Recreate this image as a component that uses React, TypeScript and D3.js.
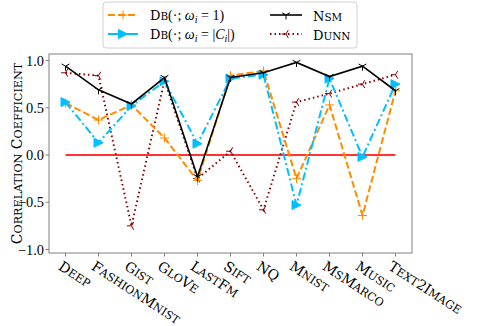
import React from "react";
import * as d3 from "d3";

// Values
const DATASETS = ["Deep", "FashionMnist", "Gist", "GloVe", "LastFm", "Sift", "NQ", "Mnist", "MsMarco", "Music", "Text2Image"];
const DB_ONE = [0.55, 0.37, 0.53, 0.18, -0.27, 0.84, 0.89, -0.25, 0.53, -0.64, 0.68];
const DB_SIZE = [0.56, 0.13, 0.52, 0.78, 0.12, 0.81, 0.85, -0.53, 0.81, -0.02, 0.75];
const NSM = [0.94, 0.69, 0.54, 0.82, -0.23, 0.82, 0.87, 0.98, 0.83, 0.94, 0.68];
const DUNN = [0.87, 0.84, -0.75, 0.79, -0.25, 0.04, -0.58, 0.56, 0.65, 0.75, 0.85];
const Y_TICKS = [-1.0, -0.5, 0.0, 0.5, 1.0];

const W = 488;
const H = 326;
const M = { top: 54, right: 76, bottom: 73, left: 49 };
const SERIF = "'Liberation Serif', serif";
const SC_FONT = "'DejaVu Serif', serif";

const ORANGE = "#ff8c00";
const BLUE = "#00bfff";
const DARKRED = "#8b0000";

type MarkerKind = "plus" | "triRight" | "triDown" | "triLeft";

function Marker({ kind, x, y, color }: { kind: MarkerKind; x: number; y: number; color: string }) {
  const r = 4.5;
  const c = r * 0.866, s = r * 0.5;
  if (kind === "plus") {
    return <path d={`M${x - r},${y}H${x + r}M${x},${y - r}V${y + r}`} stroke={color} strokeWidth={1} fill="none" />;
  }
  if (kind === "triRight") {
    return <path d={`M${x + r},${y}L${x - r},${y - r}L${x - r},${y + r}Z`} fill={color} stroke={color} strokeWidth={1} />;
  }
  if (kind === "triDown") {
    return <path d={`M${x},${y}V${y + r}M${x},${y}L${x - c},${y - s}M${x},${y}L${x + c},${y - s}`} stroke={color} strokeWidth={1} fill="none" />;
  }
  return <path d={`M${x},${y}H${x - r}M${x},${y}L${x + s},${y - c}M${x},${y}L${x + s},${y + c}`} stroke={color} strokeWidth={1} fill="none" />;
}

// LaTeX-like small caps: capitals at full size, lower case as smaller capitals
function smallCaps(str: string, size: number) {
  const runs = str.match(/[a-z]+|[^a-z]+/g) || [];
  return runs.map((r, i) =>
    /[a-z]/.test(r) ? (
      <tspan key={i} fontSize={size * 0.8}>{r.toUpperCase()}</tspan>
    ) : (
      <tspan key={i} fontSize={size}>{r}</tspan>
    )
  );
}

const SERIES = [
  { key: "dunn", values: DUNN, color: DARKRED, dash: "1.5 3", width: 2, marker: "triLeft" as MarkerKind },
  { key: "dbOne", values: DB_ONE, color: ORANGE, dash: "7 3", width: 2, marker: "plus" as MarkerKind },
  { key: "dbSize", values: DB_SIZE, color: BLUE, dash: "8 3 2 3", width: 2, marker: "triRight" as MarkerKind },
  { key: "nsm", values: NSM, color: "#000", dash: null, width: 1.6, marker: "triDown" as MarkerKind },
];

function DbLabel({ x, y, size }: { x: number; y: number; size: boolean }) {
  return (
    <text x={x} y={y} fontFamily={SERIF} fontSize={14} dy="0.35em">
      <tspan fontFamily={SC_FONT}>{smallCaps("Db", 13)}</tspan>
      <tspan>(·; </tspan>
      <tspan fontStyle="italic">ω</tspan>
      <tspan fontStyle="italic" fontSize={10} dy="3">i</tspan>
      <tspan dy="-3"> = </tspan>
      {size ? (
        <>
          <tspan>|</tspan>
          <tspan fontStyle="italic">C</tspan>
          <tspan fontStyle="italic" fontSize={10} dy="3">i</tspan>
          <tspan dy="-3">|)</tspan>
        </>
      ) : (
        <tspan>1)</tspan>
      )}
    </text>
  );
}

export default function App() {
  const innerB = H - M.bottom;
  const x = d3.scalePoint<string>().domain(DATASETS).range([M.left, W - M.right]).padding(0.5);
  const y = d3.scaleLinear().domain([-1.037, 1.069]).range([innerB, M.top]);

  const line = d3
    .line<number>()
    .x((_, i) => x(DATASETS[i]) as number)
    .y((d) => y(d));

  const x0 = x(DATASETS[0]) as number;
  const x1 = x(DATASETS[DATASETS.length - 1]) as number;

  const legendRows = [15, 34];

  return (
    <svg width={W} height={H} style={{ position: "absolute", left: 0, top: 0, background: "#fff" }}>
      {/* zero reference */}
      <line x1={x0} x2={x1} y1={y(0)} y2={y(0)} stroke="#ff3333" strokeWidth={2} />

      {SERIES.map((s) => (
        <g key={s.key}>
          <path d={line(s.values) || ""} fill="none" stroke={s.color} strokeWidth={s.width} strokeDasharray={s.dash || undefined} />
          {s.values.map((v, i) => (
            <Marker key={i} kind={s.marker} x={x(DATASETS[i]) as number} y={y(v)} color={s.color} />
          ))}
        </g>
      ))}

      {/* frame */}
      <rect x={M.left} y={M.top} width={W - M.right - M.left} height={innerB - M.top} fill="none" stroke="#808080" strokeWidth={1} />

      {/* y axis */}
      {Y_TICKS.map((t) => (
        <g key={t}>
          <line x1={M.left - 3.5} x2={M.left} y1={y(t)} y2={y(t)} stroke="#808080" />
          <text x={M.left - 5} y={y(t)} dy="0.35em" textAnchor="end" fontFamily={SERIF} fontSize={14.4}>
            {d3.format(".1f")(t).replace("-", "−")}
          </text>
        </g>
      ))}
      <text
        transform={`translate(16,${(M.top + innerB) / 2}) rotate(-90)`}
        textAnchor="middle"
        dy="0.35em"
        fontFamily={SC_FONT}
      >
        {smallCaps("Correlation Coefficient", 14)}
      </text>

      {/* x axis */}
      {DATASETS.map((d) => {
        const px = x(d) as number;
        return (
          <g key={d}>
            <line x1={px} x2={px} y1={innerB} y2={innerB + 3.5} stroke="#808080" />
            <text transform={`translate(${px - 1},${innerB + 5}) rotate(33)`} dy="0.8em" fontFamily={SC_FONT}>
              {smallCaps(d, 14)}
            </text>
          </g>
        );
      })}

      {/* legend */}
      <rect x={103} y={2} width={254} height={46} rx={3} fill="#fff" fillOpacity={0.8} stroke="#d0d0d0" />
      {[SERIES[1], SERIES[2]].map((s, i) => (
        <g key={s.key}>
          <line x1={108} x2={138} y1={legendRows[i]} y2={legendRows[i]} stroke={s.color} strokeWidth={s.width} strokeDasharray={s.key === "dbOne" ? "7 3" : undefined} />
          <Marker kind={s.marker} x={123} y={legendRows[i]} color={s.color} />
          <DbLabel x={150} y={legendRows[i]} size={i === 1} />
        </g>
      ))}
      {[SERIES[3], SERIES[0]].map((s, i) => (
        <g key={s.key}>
          <line x1={270} x2={302} y1={legendRows[i]} y2={legendRows[i]} stroke={s.color} strokeWidth={s.width} strokeDasharray={s.dash || undefined} />
          <Marker kind={s.marker} x={286} y={legendRows[i]} color={s.color} />
          <text x={313} y={legendRows[i]} dy="0.35em" fontFamily={SC_FONT}>
            {smallCaps(s.key === "nsm" ? "Nsm" : "Dunn", 13)}
          </text>
        </g>
      ))}
    </svg>
  );
}
